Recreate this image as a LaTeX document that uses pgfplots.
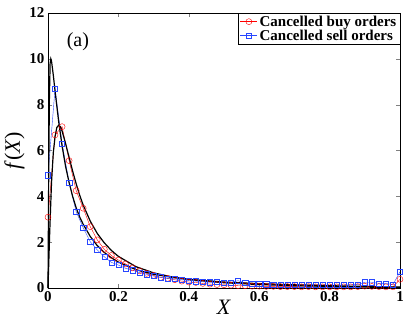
\documentclass[border=0pt]{standalone}
\usepackage{fontspec}
\setmainfont{Liberation Serif}
\usepackage{pgfplots}
\pgfplotsset{compat=1.18}
\definecolor{myred}{RGB}{255,0,0}
\definecolor{myblue}{RGB}{40,70,255}

\begin{document}
\begin{tikzpicture}
\begin{axis}[
    at={(0,0)}, anchor=south west,
    scale only axis, width=352pt, height=275pt,
    xmin=0, xmax=1, ymin=0, ymax=12,
    xtick={0,0.2,...,1}, ytick={0,2,...,12},
    xticklabels={0,0.2,0.4,0.6,0.8,1},
    tick align=inside, major tick length=4pt,
    ticklabel style={font=\fontsize{15}{15}\selectfont\bfseries},
    /pgf/number format/assume math mode=true,
    xlabel={\textit{X}}, ylabel={\textit{f}\/(\textit{X})},
    label style={font=\fontsize{22}{22}\selectfont},
    xlabel style={yshift=8pt},
    ylabel style={yshift=-2pt},
    legend style={at={(1,1)}, anchor=north east, font=\fontsize{15}{16}\selectfont\bfseries,
                  inner sep=1.5pt, row sep=0pt, draw=black,
                  nodes={inner ysep=1pt}},
    legend cell align=left,
    clip=false,
]
\addplot[myred, thin, mark=o, mark size=3pt] coordinates {
(0,3.09)(0.02,6.68)(0.04,7.04)(0.06,5.56)(0.08,4.25)(0.1,3.48)(0.12,2.68)(0.14,2.10)(0.16,1.69)(0.18,1.42)
(0.2,1.22)(0.22,1.05)(0.24,0.88)(0.26,0.75)(0.28,0.64)(0.30,0.55)(0.32,0.46)(0.34,0.42)(0.36,0.36)(0.38,0.30)
(0.40,0.26)(0.42,0.24)(0.44,0.20)(0.46,0.17)(0.48,0.15)(0.50,0.14)(0.52,0.12)(0.54,0.10)(0.56,0.10)(0.58,0.08)
(0.60,0.08)(0.62,0.07)(0.64,0.07)(0.66,0.06)(0.68,0.06)(0.70,0.06)(0.72,0.05)(0.74,0.06)(0.76,0.05)(0.78,0.05)
(0.80,0.05)(0.82,0.05)(0.84,0.05)(0.86,0.05)(0.88,0.06)(0.90,0.08)(0.92,0.07)(0.94,0.06)(0.96,0.05)(0.98,0.05)(1,0.38)};
\addlegendentry{Cancelled buy orders}
\addplot[myblue, thin, mark=square, mark size=2.6pt] coordinates {
(0,4.92)(0.02,8.69)(0.04,6.3)(0.06,4.6)(0.08,3.33)(0.1,2.63)(0.12,2.02)(0.14,1.66)(0.16,1.36)(0.18,1.12)
(0.2,1.0)(0.22,0.86)(0.24,0.78)(0.26,0.67)(0.28,0.6)(0.30,0.52)(0.32,0.47)(0.34,0.42)(0.36,0.40)(0.38,0.36)
(0.40,0.33)(0.42,0.30)(0.44,0.27)(0.46,0.25)(0.48,0.26)(0.50,0.23)(0.52,0.24)(0.54,0.32)(0.56,0.22)(0.58,0.20)
(0.60,0.18)(0.62,0.17)(0.64,0.16)(0.66,0.16)(0.68,0.15)(0.70,0.15)(0.72,0.14)(0.74,0.14)(0.76,0.14)(0.78,0.13)
(0.80,0.13)(0.82,0.13)(0.84,0.13)(0.86,0.14)(0.88,0.15)(0.90,0.25)(0.92,0.25)(0.94,0.20)(0.96,0.20)(0.98,0.15)(1,0.71)};
\addlegendentry{Cancelled sell orders}
% fitted curves
\addplot[black, line width=1.2pt, forget plot] coordinates {
(0,0)(0.002,5)(0.004,8.3)(0.006,9.8)(0.008,10.0)(0.01,9.9)(0.015,9.3)(0.02,8.6)(0.03,7.3)(0.04,6.2)(0.05,5.3)
(0.06,4.6)(0.07,4.0)(0.08,3.5)(0.09,3.1)(0.1,2.78)(0.12,2.25)(0.14,1.85)(0.16,1.55)(0.18,1.32)(0.2,1.13)
(0.25,0.8)(0.3,0.6)(0.35,0.47)(0.4,0.38)(0.5,0.26)(0.6,0.19)(0.7,0.14)(0.8,0.1)(0.9,0.07)(1,0.04)};
\addplot[black, line width=1.2pt, forget plot] coordinates {
(0,0)(0.005,2.5)(0.01,4.6)(0.015,5.9)(0.02,6.6)(0.025,7.0)(0.03,7.1)(0.035,7.05)(0.04,6.85)(0.05,6.3)
(0.06,5.7)(0.07,5.1)(0.08,4.55)(0.09,4.05)(0.1,3.62)(0.12,2.92)(0.14,2.38)(0.16,1.97)(0.18,1.64)(0.2,1.38)
(0.25,0.93)(0.3,0.66)(0.35,0.49)(0.4,0.37)(0.5,0.23)(0.6,0.15)(0.7,0.1)(0.8,0.07)(0.9,0.04)(1,0.02)};
\node[font=\fontsize{20}{20}\selectfont] at (axis cs:0.085,10.75) {(a)};
\end{axis}
\pgfresetboundingbox
\path (-48pt,-39pt) rectangle (361pt,288pt);
\end{tikzpicture}
\end{document}
